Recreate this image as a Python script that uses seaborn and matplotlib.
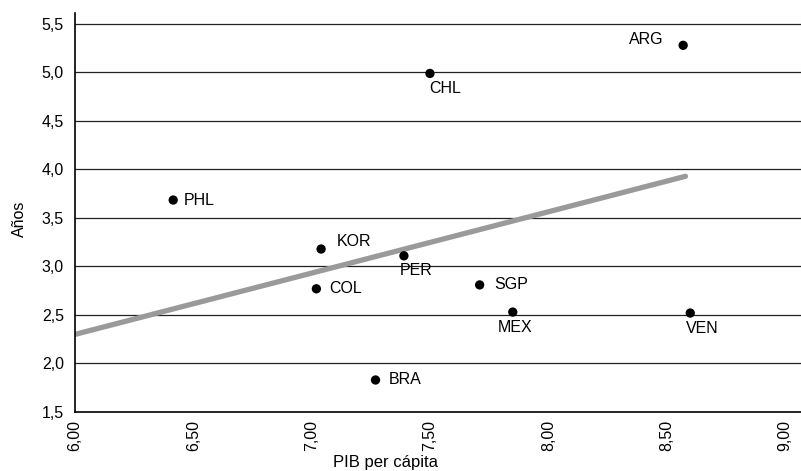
import matplotlib
matplotlib.use("Agg")
import matplotlib.pyplot as plt
import seaborn as sns
import pandas as pd

# datos
paises = ["ARG", "CHL", "PHL", "KOR", "PER", "COL", "SGP", "MEX", "VEN", "BRA"]
pib = [8.57, 7.50, 6.415, 7.04, 7.39, 7.02, 7.71, 7.85, 8.60, 7.27]
anios = [5.28, 4.99, 3.685, 3.18, 3.11, 2.77, 2.81, 2.53, 2.52, 1.83]
tend_x = [6.00, 8.58]
tend_y = [2.30, 3.93]

df = pd.DataFrame({"pais": paises, "pib": pib, "anios": anios})
tend = pd.DataFrame({"x": tend_x, "y": tend_y})

sns.set_style("white")
plt.rcParams["font.family"] = ["Liberation Sans", "DejaVu Sans"]
plt.rcParams["text.color"] = "black"
plt.rcParams["xtick.color"] = "black"
plt.rcParams["ytick.color"] = "black"
plt.rcParams["axes.labelcolor"] = "black"

fig = plt.figure(figsize=(8.01, 4.71), dpi=100)
ax = fig.add_axes([75 / 801, 59 / 471, 726 / 801, 399 / 471])

for yv in [2.0, 2.5, 3.0, 3.5, 4.0, 4.5, 5.0, 5.5]:
    ax.axhline(yv, color="#222222", lw=0.9, zorder=0)

sns.lineplot(data=tend, x="x", y="y", color="#9a9a9a", lw=3.8, ax=ax, zorder=2)
sns.scatterplot(data=df, x="pib", y="anios", color="black", s=45, edgecolor="none", ax=ax, zorder=3)

# desplazamiento de etiquetas (px)
offs = {"ARG": (-20, 6, "right"), "CHL": (-1, -15, "left"),
        "PHL": (11, 0, "left"), "KOR": (16, 8, "left"),
        "PER": (-4, -15, "left"), "COL": (13, 0, "left"),
        "SGP": (15, 0, "left"), "MEX": (-15, -15, "left"),
        "VEN": (-4, -15, "left"), "BRA": (13, 0, "left")}
for p, x, y in zip(paises, pib, anios):
    dx, dy, ha = offs[p]
    ax.annotate(p, (x, y), xytext=(dx, dy), textcoords="offset pixels",
                ha=ha, va="center", fontsize=11.5)

ax.set_xlim(6.0, 9.068)
ax.set_ylim(1.5, 5.613)
xt = [6.0, 6.5, 7.0, 7.5, 8.0, 8.5, 9.0]
ax.set_xticks(xt)
ax.set_xticklabels([f"{v:.2f}".replace(".", ",") for v in xt], rotation=90, fontsize=11.5)
yt = [1.5, 2.0, 2.5, 3.0, 3.5, 4.0, 4.5, 5.0, 5.5]
ax.set_yticks(yt)
ax.set_yticklabels([f"{v:.1f}".replace(".", ",") for v in yt], fontsize=11.5)
ax.tick_params(axis="y", length=5, width=0.9, color="black", pad=3)
ax.tick_params(axis="x", length=0, pad=6)

for s in ["top", "right"]:
    ax.spines[s].set_visible(False)
for s in ["left", "bottom"]:
    ax.spines[s].set_color("black")
    ax.spines[s].set_linewidth(1.2)

ax.set_xlabel("PIB per cápita", fontsize=12)
ax.xaxis.set_label_coords(0.427, -0.108)
ax.set_ylabel("Años", fontsize=11.5)
ax.yaxis.set_label_coords(-0.066, 0.485)

fig.savefig("out.png", dpi=100)
